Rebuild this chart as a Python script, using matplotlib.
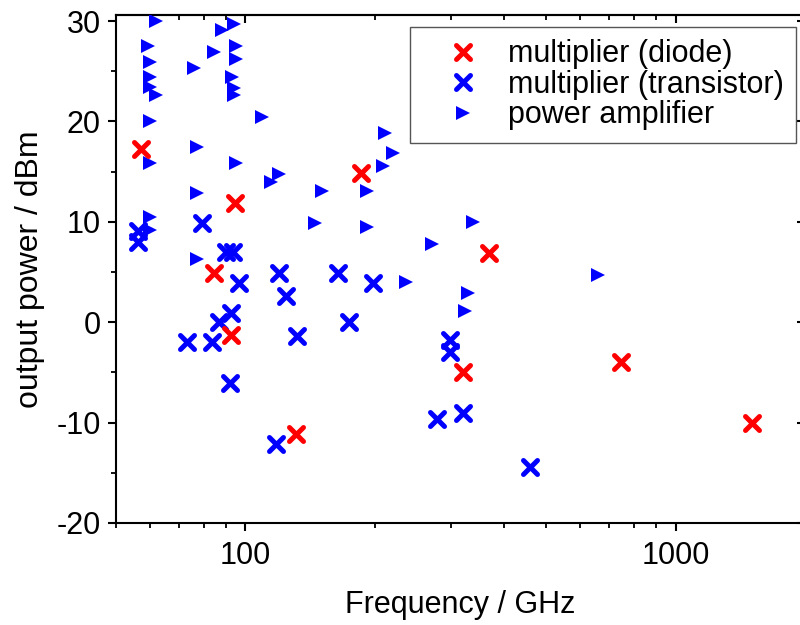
import matplotlib
matplotlib.use("Agg")
import matplotlib.pyplot as plt
from matplotlib.markers import MarkerStyle
from matplotlib.ticker import LogLocator, FuncFormatter, NullFormatter, MultipleLocator

plt.rcParams['font.family'] = ['Liberation Sans', 'DejaVu Sans']
plt.rcParams['axes.unicode_minus'] = False

# multiplier (diode)
diode_f = [57.3, 94.5, 84.4, 92.5, 131.2, 186.1, 368.6, 320.5, 745.9, 1509]
diode_p = [17.3, 11.9, 4.9, -1.3, -11.1, 14.9, 6.9, -5.0, -4.0, -10.0]

# multiplier (transistor)
trans_f = [56.1, 56.1, 79.1, 90.0, 93.5, 96.6, 119.8, 124.3, 92.5, 86.7, 73.0, 83.5,
           131.9, 92.0, 117.8, 164.5, 197.5, 174.5, 298.9, 298.9, 278.7, 320.5, 459.7]
trans_p = [9.1, 8.0, 9.9, 7.0, 7.0, 3.9, 4.9, 2.6, 0.9, 0.0, -2.0, -2.0,
           -1.4, -6.1, -12.1, 4.9, 3.9, 0.0, -1.8, -3.0, -9.6, -9.0, -14.4]

# power amplifier
pa_f = [62.1, 88.1, 94.0, 59.5, 84.4, 95.0, 60.1, 95.0, 75.8, 60.1, 93.0, 60.1, 62.1,
        94.0, 94.0, 60.1, 109.3, 77.0, 60.1, 95.0, 119.8, 114.7, 77.0, 60.1, 60.1, 77.0,
        210.7, 219.9, 208.4, 150.9, 191.2, 145.4, 192.2, 271.3, 338.2, 235.8, 329.2,
        324.0, 659.2]
pa_p = [30.0, 29.1, 29.7, 27.5, 26.9, 27.5, 25.9, 26.2, 25.3, 24.4, 24.4, 23.4, 22.6,
        23.3, 22.6, 20.0, 20.4, 17.5, 15.9, 15.9, 14.8, 14.0, 12.9, 10.5, 9.2, 6.3,
        18.8, 16.9, 15.6, 13.1, 13.1, 9.9, 9.5, 7.8, 10.0, 4.0, 2.9, 1.1, 4.7]

labels = ["multiplier (diode)", "multiplier (transistor)", "power amplifier"]
x_ticks = [100, 1000]
y_ticks = [-20, -10, 0, 10, 20, 30]

fig = plt.figure(figsize=(8, 6.25), dpi=100)
W, H = 800, 625
ax = fig.add_axes([116 / W, (H - 523) / H, (805 - 116) / W, (523 - 15) / H])

xm = MarkerStyle('x', capstyle='round')
ax.plot(pa_f, pa_p, linestyle='none', marker='>', ms=10, color='#0000ff',
        markeredgewidth=0, label=labels[2], zorder=3)
ax.plot(trans_f, trans_p, linestyle='none', marker=xm, ms=10, mew=3.6,
        color='#0000ff', label=labels[1], zorder=4)
ax.plot(diode_f, diode_p, linestyle='none', marker=xm, ms=10, mew=3.6,
        color='#ff0000', label=labels[0], zorder=5)

ax.set_xscale('log')
ax.set_xlim(50, 2000)
ax.set_ylim(-20, 30.6)

ax.xaxis.set_major_locator(LogLocator(base=10, subs=[1.0]))
ax.xaxis.set_minor_locator(LogLocator(base=10, subs=range(2, 10)))
ax.xaxis.set_major_formatter(FuncFormatter(lambda v, p: f"{v:g}"))
ax.xaxis.set_minor_formatter(NullFormatter())
ax.set_yticks(y_ticks)
ax.yaxis.set_minor_locator(MultipleLocator(5))

for s in ax.spines.values():
    s.set_linewidth(1.5)
    s.set_color('black')

ax.tick_params(axis='both', which='major', direction='out', length=6, width=1.5,
               labelsize=22, pad=5)
ax.tick_params(axis='both', which='minor', direction='out', length=3.5, width=1.3)
ax.tick_params(axis='x', which='major', pad=7)

secx = ax.secondary_xaxis('top')
secx.set_xticks(x_ticks)
secx.xaxis.set_minor_locator(LogLocator(base=10, subs=range(2, 10)))
secx.tick_params(axis='x', which='major', direction='in', length=6, width=1.5, labeltop=False)
secx.tick_params(axis='x', which='minor', direction='in', length=3.5, width=1.3)
secx.xaxis.set_minor_formatter(NullFormatter())
secx.spines['top'].set_linewidth(1.5)

secy = ax.secondary_yaxis('right')
secy.set_yticks(y_ticks)
secy.yaxis.set_minor_locator(MultipleLocator(5))
secy.tick_params(axis='y', which='major', direction='in', length=6, width=1.5, labelright=False)
secy.tick_params(axis='y', which='minor', direction='in', length=3.5, width=1.3)
secy.spines['right'].set_linewidth(1.5)

ax.set_xlabel("Frequency / GHz", fontsize=22, labelpad=14)
ax.set_ylabel("output power / dBm", fontsize=23, labelpad=8)

handles, labs = ax.get_legend_handles_labels()
order = [2, 1, 0]
leg = fig.legend([handles[i] for i in order], [labs[i] for i in order],
                 loc='upper left', bbox_to_anchor=(410 / W, 1 - 27 / H),
                 fontsize=22, frameon=True, fancybox=False, edgecolor='#555555',
                 framealpha=1, borderpad=0.4, labelspacing=0.02,
                 handlelength=2.7, handletextpad=0.12, borderaxespad=0,
                 numpoints=1)
leg.get_frame().set_linewidth(1.0)

fig.savefig("out.png", dpi=100)
